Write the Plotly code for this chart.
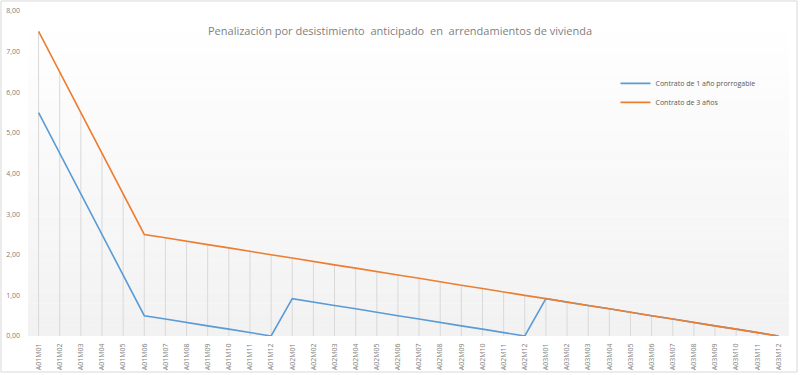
import plotly.graph_objects as go

categories = [f"A0{a}M{m:02d}" for a in (1, 2, 3) for m in range(1, 13)]

contrato_1 = [5.5, 4.5, 3.5, 2.5, 1.5, 0.5, 0.42, 0.33, 0.25, 0.17, 0.08, 0.0,
              0.92, 0.83, 0.75, 0.67, 0.58, 0.5, 0.42, 0.33, 0.25, 0.17, 0.08, 0.0,
              0.92, 0.83, 0.75, 0.67, 0.58, 0.5, 0.42, 0.33, 0.25, 0.17, 0.08, 0.0]
contrato_3 = [7.5, 6.5, 5.5, 4.5, 3.5, 2.5, 2.42, 2.33, 2.25, 2.17, 2.08, 2.0,
              1.92, 1.83, 1.75, 1.67, 1.58, 1.5, 1.42, 1.33, 1.25, 1.17, 1.08, 1.0,
              0.92, 0.83, 0.75, 0.67, 0.58, 0.5, 0.42, 0.33, 0.25, 0.17, 0.08, 0.0]

y_ticks = [0, 1, 2, 3, 4, 5, 6, 7, 8]

# drop lines from the highest series value down to the axis
drop_x, drop_y = [], []
for c, a, b in zip(categories, contrato_1, contrato_3):
    drop_x += [c, c, None]
    drop_y += [0, max(a, b), None]

fig = go.Figure()
fig.add_trace(go.Scatter(x=drop_x, y=drop_y, mode="lines",
                         line=dict(color="#d9d9d9", width=1),
                         showlegend=False, hoverinfo="skip"))
fig.add_trace(go.Scatter(x=categories, y=contrato_1, mode="lines",
                         name="Contrato de 1 año prorrogable",
                         line=dict(color="#5B9BD5", width=1.6)))
fig.add_trace(go.Scatter(x=categories, y=contrato_3, mode="lines",
                         name="Contrato de 3 años",
                         line=dict(color="#ED7D31", width=1.6)))

# gradient plot background
shapes = []
n = 30
for i in range(n):
    t = i / (n - 1)
    g = int(round(242 + (255 - 242) * t))
    shapes.append(dict(type="rect", xref="paper", yref="paper",
                       x0=0, x1=1, y0=i / n, y1=(i + 1) / n,
                       fillcolor=f"rgb({g},{g},{g})", line=dict(width=0),
                       layer="below"))
# outer border
shapes.append(dict(type="rect", xref="paper", yref="paper",
                   x0=-0.0355, x1=1.0105, y0=-0.1108, y1=1.0308,
                   line=dict(color="#d9d9d9", width=1), layer="below"))

fig.update_layout(
    width=800, height=375,
    margin=dict(l=28, r=11, t=11, b=39, autoexpand=False),
    paper_bgcolor="white", plot_bgcolor="rgba(0,0,0,0)",
    separators=",.",
    font=dict(family="Open Sans, sans-serif", color="#808080", size=7),
    shapes=shapes,
    showlegend=True,
    legend=dict(x=0.772, y=0.822, xanchor="left", yanchor="top",
                bgcolor="rgba(0,0,0,0)", font=dict(size=7, color="#595959"),
                tracegroupgap=4, itemwidth=30),
    annotations=[dict(text="Penalización por desistimiento  anticipado  en  arrendamientos de vivienda",
                      xref="paper", yref="paper", x=0.489, y=0.9415,
                      xanchor="center", yanchor="middle",
                      showarrow=False, font=dict(size=11, color="#7f7f7f"))],
    hovermode=False,
)
fig.update_xaxes(type="category", range=[-0.5, 35.5], tickangle=-90,
                 showgrid=False, showline=False, zeroline=False, automargin=False,
                 ticks="", tickfont=dict(size=7, color="#808080"),
                 ticklabelstandoff=5)
fig.update_yaxes(range=[0, 8], tickvals=y_ticks, tickformat=".2f",
                 showgrid=False, showline=False, zeroline=False, automargin=False,
                 ticks="", tickfont=dict(size=7, color="#808080"),
                 ticklabelstandoff=7)

fig.write_html("out.html", config={"displayModeBar": False},
               post_script="document.body.style.margin='0';")
